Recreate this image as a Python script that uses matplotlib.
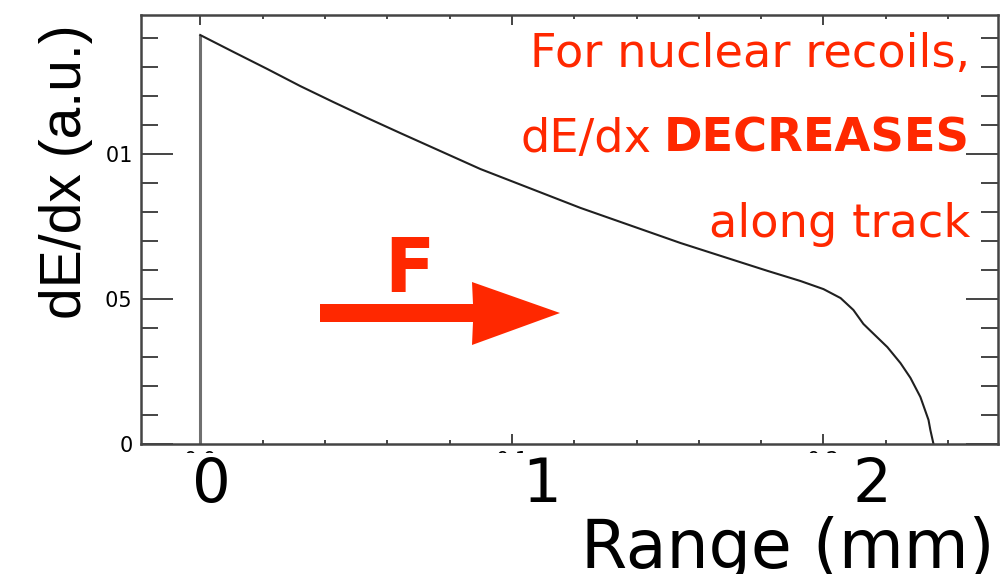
import matplotlib
matplotlib.use("Agg")
import matplotlib.pyplot as plt
from matplotlib.patches import Polygon, Rectangle
from matplotlib.ticker import FixedLocator, FixedFormatter, MultipleLocator

# energy loss profile of a nuclear recoil track
range_mm = [0, 0, 0.106, 0.215, 0.321, 0.427, 0.536, 0.642, 0.899, 1.220, 1.541,
            1.660, 1.820, 1.926, 2.000, 2.055, 2.096, 2.128, 2.151, 2.205, 2.247,
            2.279, 2.311, 2.337, 2.343, 2.353]
dedx = [0, 0.01410, 0.01352, 0.01293, 0.01234, 0.01179, 0.01124, 0.01072, 0.00948,
        0.00814, 0.00693, 0.00652, 0.00597, 0.00562, 0.00534, 0.00503, 0.00462,
        0.00414, 0.00390, 0.00334, 0.00279, 0.00228, 0.00162, 0.00083, 0.00048, 0]

x_major = [0, 1, 2]
x_major_labels = ["0.0", "0.1", "0.2"]
y_major = [0, 0.005, 0.01]
y_major_labels = ["0", "0.005", "0.01"]
big_x_labels = ["0", "1", "2"]

red = "#ff2800"
frame = "#444444"

W, H = 1004, 574
fig = plt.figure(figsize=(W / 100, H / 100), dpi=100)
ax = fig.add_axes([141 / W, 1 - 444 / H, 857 / W, 429 / H])

# rising edge in grey, then the falling profile
ax.plot(range_mm[:2], dedx[:2], color="#707070", lw=2.2, solid_capstyle="butt")
ax.plot(range_mm[1:], dedx[1:], color="#202020", lw=1.5)

ax.set_xlim(-0.19, 2.56)
ax.set_ylim(0, 0.01479)

ax.xaxis.set_major_locator(FixedLocator(x_major))
ax.xaxis.set_major_formatter(FixedFormatter(x_major_labels))
ax.xaxis.set_minor_locator(MultipleLocator(0.2))
ax.yaxis.set_major_locator(FixedLocator(y_major))
ax.yaxis.set_major_formatter(FixedFormatter(y_major_labels))
ax.yaxis.set_minor_locator(MultipleLocator(0.001))

ax.tick_params(axis="x", which="both", direction="in", top=True, color=frame,
               width=1.4, labelsize=15, pad=5)
ax.tick_params(axis="x", which="major", length=7)
ax.tick_params(axis="x", which="minor", length=3)
ax.tick_params(axis="y", which="both", direction="in", right=True, color=frame,
               width=1.4, labelsize=15, pad=6)
ax.tick_params(axis="y", which="major", length=23)
ax.tick_params(axis="y", which="minor", length=12)
for s in ax.spines.values():
    s.set_color(frame)
    s.set_linewidth(1.8)

# white paste-over strips for the small axis numbers
fig.patches.append(Rectangle((0, 0), 1, 1 - 453 / H, transform=fig.transFigure,
                             facecolor="white", edgecolor="none", zorder=1))
fig.patches.append(Rectangle((0, 0), 106 / W, 1 - 25 / H, transform=fig.transFigure,
                             facecolor="white", edgecolor="none", zorder=1))

# large axis labels
for lab, px in zip(big_x_labels, [211, 542, 872]):
    fig.text(px / W, 1 - 502 / H, lab, fontsize=44, ha="center", va="baseline",
             color="black", zorder=3)
fig.text(995 / W, 1 - 568 / H, "Range (mm)", fontsize=48, ha="right",
         va="baseline", color="black", zorder=3)
fig.text(66 / W, 1 - 172 / H, "dE/dx (a.u.)", fontsize=41, rotation=90,
         ha="center", va="center", color="black", zorder=3,
         family=["Liberation Sans", "DejaVu Sans"])

# annotation text
fig.text(970 / W, 1 - 67 / H, "For nuclear recoils,", fontsize=33.4, color=red,
         ha="right", va="baseline", zorder=3)
fig.text(970 / W, 1 - 152 / H, "DECREASES", fontsize=33.4, color=red,
         fontweight="bold", ha="right", va="baseline", zorder=3)
fig.text(652 / W, 1 - 152 / H, "dE/dx", fontsize=33.4, color=red,
         ha="right", va="baseline", zorder=3)
fig.text(970 / W, 1 - 237 / H, "along track", fontsize=33.4, color=red,
         ha="right", va="baseline", zorder=3)

# direction arrow with label
fig.text(384 / W, 1 - 292 / H, "F", fontsize=53, fontweight="bold", color=red,
         ha="left", va="baseline", zorder=3)
arrow_px = [(320, 304), (473, 304), (472, 282), (560, 313), (472, 345),
            (473, 322), (320, 322)]
arrow = Polygon([(x / W, 1 - y / H) for x, y in arrow_px], closed=True,
                transform=fig.transFigure, facecolor=red, edgecolor="none",
                zorder=3)
fig.patches.append(arrow)

fig.savefig("out.png", dpi=100, facecolor="white")
